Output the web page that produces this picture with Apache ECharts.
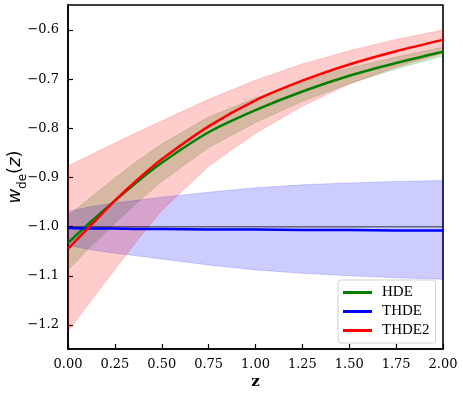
<!DOCTYPE html>
<html>
<head>
<meta charset="utf-8">
<script src="https://cdn.jsdelivr.net/npm/echarts@6/dist/echarts.min.js"></script>
<style>
  html, body { margin: 0; padding: 0; background: #fff; }
  #chart { width: 463px; height: 397px; }
</style>
</head>
<body>
<div id="chart"></div>
<script>
// redshift grid
const zVals = [0, 0.125, 0.25, 0.375, 0.5, 0.75, 1.0, 1.25, 1.5, 1.75, 2.0];

// HDE
const hdeMid = [-1.033, -0.989, -0.947, -0.907, -0.870, -0.808, -0.763, -0.725, -0.693, -0.667, -0.644];
const hdeLo  = [-1.088, -1.039, -0.993, -0.949, -0.908, -0.839, -0.788, -0.745, -0.709, -0.679, -0.653];
const hdeHi  = [-0.978, -0.939, -0.901, -0.865, -0.832, -0.777, -0.738, -0.705, -0.677, -0.655, -0.635];

// THDE
const thdeMid = [-1.003, -1.004, -1.004, -1.005, -1.005, -1.006, -1.006, -1.007, -1.007, -1.008, -1.008];
const thdeLo  = [-1.038, -1.047, -1.054, -1.060, -1.066, -1.078, -1.088, -1.095, -1.100, -1.104, -1.107];
const thdeHi  = [-0.969, -0.959, -0.952, -0.946, -0.940, -0.930, -0.921, -0.915, -0.911, -0.908, -0.906];

// THDE2
const thde2Mid = [-1.045, -0.996, -0.947, -0.903, -0.863, -0.796, -0.743, -0.703, -0.670, -0.643, -0.620];
const thde2Lo  = [-1.213, -1.150, -1.087, -1.025, -0.967, -0.877, -0.810, -0.755, -0.710, -0.675, -0.647];
const thde2Hi  = [-0.876, -0.853, -0.830, -0.807, -0.785, -0.741, -0.702, -0.669, -0.642, -0.619, -0.600];

// w = -1 reference
const refLevel = -1.0;

const yTicks = [-1.2, -1.1, -1.0, -0.9, -0.8, -0.7, -0.6];
const names = ['HDE', 'THDE', 'THDE2'];

const serif = 'DejaVu Serif';

function pairs(v) {
  return zVals.map((z, i) => [z, v[i]]);
}

// whole band drawn as one polygon on the first item
function band(name, lo, hi, fill) {
  return {
    name: name + ' band',
    type: 'custom',
    silent: true,
    data: zVals.map((z, i) => [z, lo[i], hi[i]]),
    encode: { x: 0, y: [1, 2] },
    renderItem: function (params, api) {
      if (params.dataIndex !== 0) return null;
      const pts = [];
      for (let i = 0; i < zVals.length; i++) pts.push(api.coord([zVals[i], hi[i]]));
      for (let i = zVals.length - 1; i >= 0; i--) pts.push(api.coord([zVals[i], lo[i]]));
      return {
        type: 'polygon',
        shape: { points: pts },
        style: { fill: fill, stroke: fill, lineWidth: 0.8 }
      };
    }
  };
}

function curve(name, v, color) {
  return {
    name: name,
    type: 'line',
    data: pairs(v),
    showSymbol: false,
    smooth: 0.3,
    color: color,
    lineStyle: { width: 2.5, color: color },
    z: 3
  };
}

const chart = echarts.init(document.getElementById('chart'), null, { renderer: 'canvas' });

chart.setOption({
  animation: false,
  backgroundColor: '#fff',
  grid: {
    left: 68, right: 20, top: 5, bottom: 48,
    containLabel: false,
    outerBoundsMode: 'none',
    show: true, borderColor: '#000', borderWidth: 1.6
  },
  legend: {
    data: names,
    orient: 'vertical',
    left: 338,
    top: 280,
    padding: [5, 6, 5, 5],
    itemGap: 4,
    itemWidth: 29,
    itemHeight: 3,
    icon: 'rect',
    borderColor: '#d0d0d0',
    borderWidth: 1,
    borderRadius: 3,
    backgroundColor: 'rgba(255,255,255,0.8)',
    textStyle: { fontFamily: 'Liberation Serif', fontSize: 15, color: '#000', padding: [0, 0, 0, 5] }
  },
  xAxis: {
    type: 'value',
    min: 0,
    max: 2,
    interval: 0.25,
    name: 'z',
    nameLocation: 'middle',
    nameGap: 26,
    nameMoveOverlap: false,
    nameTextStyle: { fontFamily: serif, fontWeight: 'bold', fontSize: 15, color: '#000' },
    axisLine: { lineStyle: { color: '#000', width: 1.6 } },
    axisTick: { inside: true, length: 5, lineStyle: { color: '#000', width: 1.2 } },
    axisLabel: {
      fontFamily: serif, fontSize: 13, color: '#000', margin: 9,
      formatter: v => v.toFixed(2)
    },
    splitLine: { show: false }
  },
  yAxis: {
    type: 'value',
    min: -1.249,
    max: -0.549,
    name: '{i|w}{s|de}{u|(}{i|z}{u|)}',
    nameLocation: 'middle',
    nameGap: 39,
    nameMoveOverlap: false,
    nameTextStyle: {
      rich: {
        i: { fontFamily: 'DejaVu Sans', fontStyle: 'italic', fontSize: 18, color: '#000', padding: [0, 0, 5, 0] },
        u: { fontFamily: 'DejaVu Sans', fontSize: 18, color: '#000', padding: [0, 0, 5, 0] },
        s: { fontFamily: 'DejaVu Sans', fontSize: 12, color: '#000', verticalAlign: 'bottom' }
      }
    },
    axisLine: { show: true, lineStyle: { color: '#000', width: 1.6 } },
    axisTick: { inside: true, length: 5, customValues: yTicks, lineStyle: { color: '#000', width: 1.2 } },
    axisLabel: {
      fontFamily: serif, fontSize: 13, color: '#000', margin: 9,
      customValues: yTicks,
      formatter: v => v.toFixed(1).replace('-', '\u2212')
    },
    splitLine: { show: false }
  },
  series: [
    band('HDE', hdeLo, hdeHi, 'rgba(0,128,0,0.2)'),
    band('THDE', thdeLo, thdeHi, 'rgba(0,0,255,0.2)'),
    band('THDE2', thde2Lo, thde2Hi, 'rgba(255,0,0,0.2)'),
    {
      name: 'ref',
      type: 'line',
      data: [[0, refLevel], [2, refLevel]],
      showSymbol: false,
      silent: true,
      lineStyle: { color: 'rgba(0,0,0,0.5)', width: 1.5 },
      z: 2
    },
    curve('HDE', hdeMid, '#008000'),
    curve('THDE', thdeMid, '#0000ff'),
    curve('THDE2', thde2Mid, '#ff0000')
  ]
});
</script>
</body>
</html>
